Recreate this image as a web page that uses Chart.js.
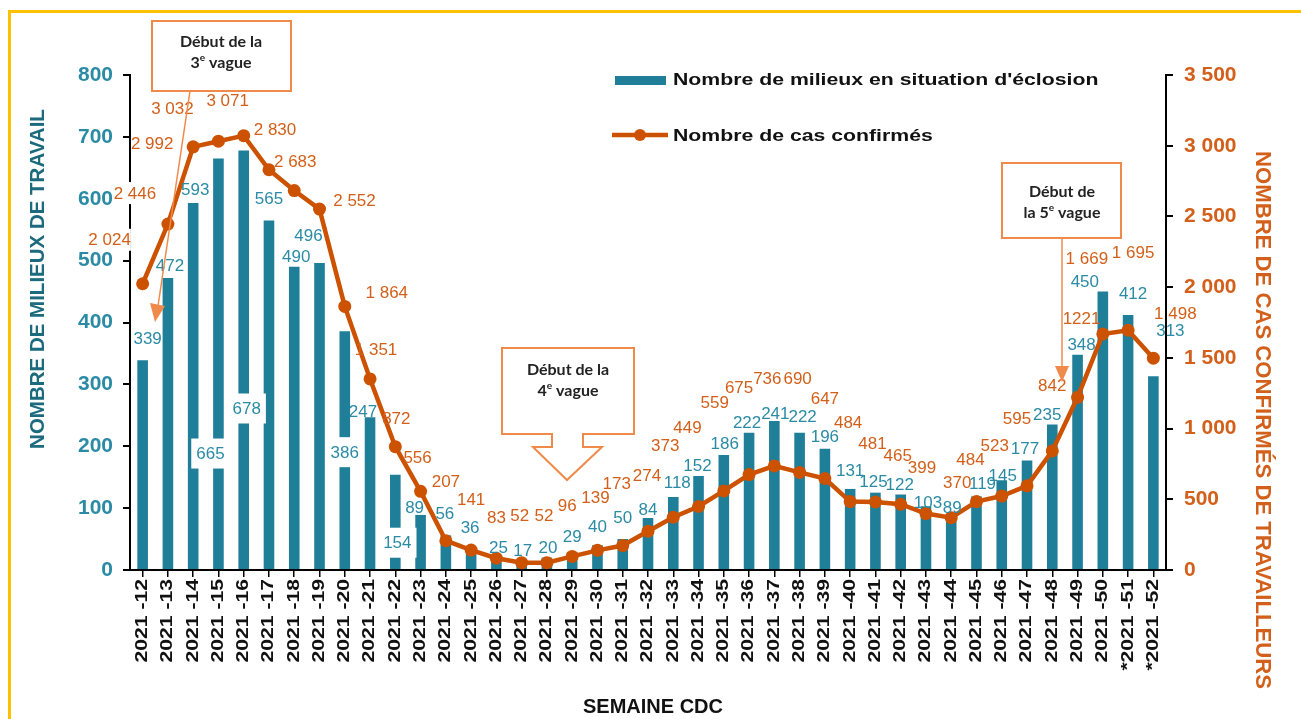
<!DOCTYPE html>
<html>
<head>
<meta charset="utf-8">
<script src="https://cdn.jsdelivr.net/npm/chart.js@4.4.0/dist/chart.umd.min.js"></script>
<style>
  html, body { margin: 0; padding: 0; background: #fff; }
  #wrap { width: 1301px; height: 719px; position: relative; }
</style>
</head>
<body>
<div id="wrap"><canvas id="c" width="1301" height="719"></canvas></div>
<script>
const weeks = ['2021-12','2021-13','2021-14','2021-15','2021-16','2021-17','2021-18','2021-19','2021-20',
  '2021-21','2021-22','2021-23','2021-24','2021-25','2021-26','2021-27','2021-28','2021-29','2021-30',
  '2021-31','2021-32','2021-33','2021-34','2021-35','2021-36','2021-37','2021-38','2021-39','2021-40',
  '2021-41','2021-42','2021-43','2021-44','2021-45','2021-46','2021-47','2021-48','2021-49','2021-50',
  '*2021-51','*2021-52'];
const outbreaks = [339,472,593,665,678,565,490,496,386,247,154,89,56,36,25,17,20,29,40,50,84,118,152,186,
  222,241,222,196,131,125,122,103,89,119,145,177,235,348,450,412,313];
const cases = [2024,2446,2992,3032,3071,2830,2683,2552,1864,1351,872,556,207,141,83,52,52,96,139,173,274,
  373,449,559,675,736,690,647,484,481,465,399,370,484,523,595,842,1221,1669,1695,1498];
const leftTicks = [0,100,200,300,400,500,600,700,800];
const rightTicks = [0,500,1000,1500,2000,2500,3000,3500];

const TEAL = '#1f7f99', TEAL_TXT = '#2b8ba5', TEAL_DARK = '#1b6a7d';
const ORANGE = '#cc5200', ORANGE_TXT = '#d2601a', BOX = '#f08a4b';
const SANS = '"Liberation Sans", Arial, sans-serif';

function fmt(v) { return String(v).replace(/\B(?=(\d{3})+(?!\d))/g, ' '); }

// label nudges [dx, dy] from the bar top / point
const barNudge = [[5,-22],[2,-13],[2,-14],[-8,295],[3,258],[0,-22],[2,-11],[-11,-28],[0,121],[-7,-6],[2,68],
  [-6,-8],[-1,-22],[-1,-20],[2,-7],[1,-9],[1,-10],[0,-16],[0,-19],[0,-22],[0,-9],[4,-15],[-1,-11],[1,-12],
  [-2,-10],[1,-8],[3,-16],[0,-12],[0,-19],[-2,-11],[-1,-10],[2,-4],[1,-8],[6,-13],[1,-5],[-2,-12],[-5,-10],
  [4,-10],[-18,-10],[5,-22],[17,-46]];
const boxedBars = [3,4,8,10];
const lineNudge = [[-33,-44],[-33,-31],[-41,-4],[-46,-33],[-16,-35],[6,-40],[1,-29],[35,-9],[42,-14],[6,-30],
  [1,-28],[-3,-34],[0,-59],[0,-51],[0,-41],[-2,-47],[-3,-47],[-5,-51],[-2,-53],[-6,-62],[-1,-56],[-8,-72],
  [-11,-79],[-9,-89],[-10,-87],[-7,-88],[-2,-94],[0,-80],[-2,-79],[-3,-59],[-3,-49],[-4,-46],[6,-35],[-6,-42],
  [-7,-51],[-10,-68],[0,-66],[4,-79],[-16,-76],[5,-78],[22,-45]];
const boxedPoints = [0,1];
const plainNumber = [37];

function wide(ctx, txt, x, y, sx) {
  ctx.save(); ctx.translate(x, y); ctx.scale(sx, 1); ctx.fillText(txt, 0, 0); ctx.restore();
}

function annoText(ctx, line1, num, rest, cx, y1, y2, prefix) {
  const F = 'bold 16px Lato, sans-serif', S = 'bold 10px Lato, sans-serif';
  ctx.fillStyle = '#222';
  ctx.textAlign = 'center'; ctx.textBaseline = 'middle';
  ctx.font = F;
  ctx.fillText(line1, cx, y1);
  // second line with a superscript e
  const a = prefix + num, b = ' ' + rest;
  const wa = ctx.measureText(a).width, wb = ctx.measureText(b).width;
  ctx.font = S;
  const we = ctx.measureText('e').width;
  let x = cx - (wa + we + wb) / 2;
  ctx.textAlign = 'left';
  ctx.font = F;
  ctx.fillText(a, x, y2); x += wa;
  ctx.font = S;
  ctx.fillText('e', x, y2 - 5); x += we;
  ctx.font = F;
  ctx.fillText(b, x, y2);
}

const decor = {
  id: 'decor',
  beforeDraw(chart) {
    const ctx = chart.ctx;
    ctx.save();
    ctx.fillStyle = '#fff';
    ctx.fillRect(0, 0, chart.width, chart.height);
    ctx.strokeStyle = '#ffc000'; ctx.lineWidth = 3;
    ctx.beginPath(); ctx.moveTo(9.5, 719); ctx.lineTo(9.5, 11.5); ctx.lineTo(1301, 11.5); ctx.stroke();
    ctx.restore();
  },
  afterDraw(chart) {
    const ctx = chart.ctx;
    const xs = chart.scales.x, yl = chart.scales.y, yr = chart.scales.y1;
    ctx.save();

    // x tick labels, wide like the original
    ctx.fillStyle = '#111';
    ctx.font = 'bold 16px ' + SANS;
    ctx.textAlign = 'right'; ctx.textBaseline = 'middle';
    weeks.forEach((w, i) => {
      const x = xs.getPixelForValue(i);
      ctx.save(); ctx.translate(x, 579); ctx.rotate(-Math.PI / 2); ctx.scale(1.32, 1);
      ctx.fillText(w.replace('-', ' -'), 0, 0);
      ctx.restore();
    });

    // axis titles
    ctx.textAlign = 'center'; ctx.textBaseline = 'middle';
    ctx.font = 'bold 20.5px ' + SANS;
    ctx.fillStyle = TEAL_DARK;
    ctx.save(); ctx.translate(38, 279); ctx.rotate(-Math.PI / 2); ctx.fillText('NOMBRE DE MILIEUX DE TRAVAIL', 0, 0); ctx.restore();
    ctx.font = 'bold 21.5px ' + SANS;
    ctx.fillStyle = ORANGE_TXT;
    ctx.save(); ctx.translate(1262, 420); ctx.rotate(Math.PI / 2); wide(ctx, 'NOMBRE DE CAS CONFIRMÉS DE TRAVAILLEURS', 0, 0, 1.03); ctx.restore();
    ctx.fillStyle = '#111';
    ctx.font = 'bold 20px ' + SANS;
    ctx.fillText('SEMAINE CDC', 653, 707);

    // bar labels
    ctx.font = '17px ' + SANS;
    outbreaks.forEach((v, i) => {
      const x = xs.getPixelForValue(i) + barNudge[i][0];
      const y = yl.getPixelForValue(v) + barNudge[i][1];
      const t = String(v);
      if (boxedBars.includes(i)) {
        const w = ctx.measureText(t).width + 10;
        ctx.fillStyle = '#fff';
        ctx.fillRect(x - w / 2, y - 15, w, 30);
      }
      ctx.fillStyle = TEAL_TXT;
      ctx.fillText(t, x, y + 1);
    });

    // line labels
    cases.forEach((v, i) => {
      const x = xs.getPixelForValue(i) + lineNudge[i][0];
      const y = yr.getPixelForValue(v) + lineNudge[i][1];
      const t = plainNumber.includes(i) ? String(v) : fmt(v);
      if (boxedPoints.includes(i)) {
        const w = ctx.measureText(t).width;
        ctx.fillStyle = '#fff';
        ctx.fillRect(x - w / 2, y - 11, w, 22);
      }
      ctx.fillStyle = ORANGE_TXT;
      ctx.fillText(t, x, y + 1);
    });

    // legend
    ctx.fillStyle = TEAL;
    ctx.fillRect(615, 76, 51, 9);
    ctx.strokeStyle = ORANGE; ctx.lineWidth = 4.5;
    ctx.beginPath(); ctx.moveTo(612, 135); ctx.lineTo(668, 135); ctx.stroke();
    ctx.fillStyle = ORANGE;
    ctx.beginPath(); ctx.arc(640, 135, 6, 0, Math.PI * 2); ctx.fill();
    ctx.fillStyle = '#111';
    ctx.font = 'bold 17px ' + SANS;
    ctx.textAlign = 'left';
    wide(ctx, "Nombre de milieux en situation d'éclosion", 673, 80, 1.25);
    wide(ctx, 'Nombre de cas confirmés', 673, 136, 1.25);

    // annotation: 3e vague
    ctx.strokeStyle = BOX; ctx.lineWidth = 2;
    ctx.fillStyle = '#fff';
    ctx.fillRect(152, 21, 139, 70); ctx.strokeRect(152, 21, 139, 70);
    annoText(ctx, 'Début de la', '3', 'vague', 221, 42, 63, '');
    ctx.lineWidth = 1.5;
    ctx.beginPath(); ctx.moveTo(190, 91); ctx.lineTo(158, 306); ctx.stroke();
    ctx.fillStyle = BOX;
    ctx.beginPath(); ctx.moveTo(150, 303); ctx.lineTo(165, 306); ctx.lineTo(155, 322); ctx.closePath(); ctx.fill();

    // annotation: 4e vague (callout with block arrow)
    ctx.fillStyle = '#fff'; ctx.lineWidth = 2; ctx.strokeStyle = BOX;
    ctx.beginPath();
    ctx.moveTo(502, 348); ctx.lineTo(634, 348); ctx.lineTo(634, 434); ctx.lineTo(583, 434);
    ctx.lineTo(583, 447); ctx.lineTo(602, 447); ctx.lineTo(567, 480); ctx.lineTo(533, 447);
    ctx.lineTo(552, 447); ctx.lineTo(552, 434); ctx.lineTo(502, 434); ctx.closePath();
    ctx.fill(); ctx.stroke();
    annoText(ctx, 'Début de la', '4', 'vague', 568, 370, 391, '');

    // annotation: 5e vague
    ctx.fillStyle = '#fff';
    ctx.fillRect(1002, 163, 119, 75); ctx.strokeRect(1002, 163, 119, 75);
    annoText(ctx, 'Début de', '5', 'vague', 1062, 192, 213, 'la ');
    ctx.lineWidth = 1.5;
    ctx.beginPath(); ctx.moveTo(1062, 238); ctx.lineTo(1062, 368); ctx.stroke();
    ctx.fillStyle = BOX;
    ctx.beginPath(); ctx.moveTo(1055, 366); ctx.lineTo(1069, 366); ctx.lineTo(1062, 382); ctx.closePath(); ctx.fill();

    ctx.restore();
  }
};

new Chart(document.getElementById('c'), {
  type: 'bar',
  data: {
    labels: weeks,
    datasets: [
      {
        type: 'line',
        label: 'Nombre de cas confirmés',
        data: cases,
        yAxisID: 'y1',
        borderColor: ORANGE,
        backgroundColor: ORANGE,
        borderWidth: 4.5,
        pointRadius: 6.5,
        pointBackgroundColor: ORANGE,
        pointBorderWidth: 0,
        tension: 0,
        order: 0
      },
      {
        label: "Nombre de milieux en situation d'éclosion",
        data: outbreaks,
        yAxisID: 'y',
        backgroundColor: TEAL,
        barPercentage: 0.42,
        categoryPercentage: 1,
        order: 1
      }
    ]
  },
  options: {
    responsive: false,
    animation: false,
    devicePixelRatio: 1,
    layout: { padding: { top: 75, left: 0, right: 0, bottom: 0 } },
    plugins: { legend: { display: false }, tooltip: { enabled: false } },
    scales: {
      x: {
        offset: true,
        ticks: { display: false },
        grid: { display: true, drawOnChartArea: false, drawTicks: true, tickLength: 7, offset: false, color: '#000', lineWidth: 1.5 },
        border: { display: true, color: '#000', width: 2 },
        afterFit: s => { s.height = 149; }
      },
      y: {
        position: 'left',
        min: 0, max: 800,
        afterBuildTicks: s => { s.ticks = leftTicks.map(v => ({ value: v })); },
        ticks: { color: TEAL_TXT, font: { family: SANS, size: 21, weight: 'bold' }, padding: 10 },
        grid: { drawOnChartArea: false, drawTicks: true, tickLength: 7, color: '#000', lineWidth: 2 },
        border: { display: true, color: '#000', width: 2 },
        afterFit: s => { s.width = 130; }
      },
      y1: {
        position: 'right',
        min: 0, max: 3500,
        afterBuildTicks: s => { s.ticks = rightTicks.map(v => ({ value: v })); },
        ticks: { color: ORANGE_TXT, font: { family: SANS, size: 21, weight: 'bold' }, padding: 11, callback: v => fmt(v) },
        grid: { drawOnChartArea: false, drawTicks: true, tickLength: 7, color: '#000', lineWidth: 2 },
        border: { display: true, color: '#000', width: 2 },
        afterFit: s => { s.width = 135; }
      }
    }
  },
  plugins: [decor]
});
</script>
</body>
</html>
